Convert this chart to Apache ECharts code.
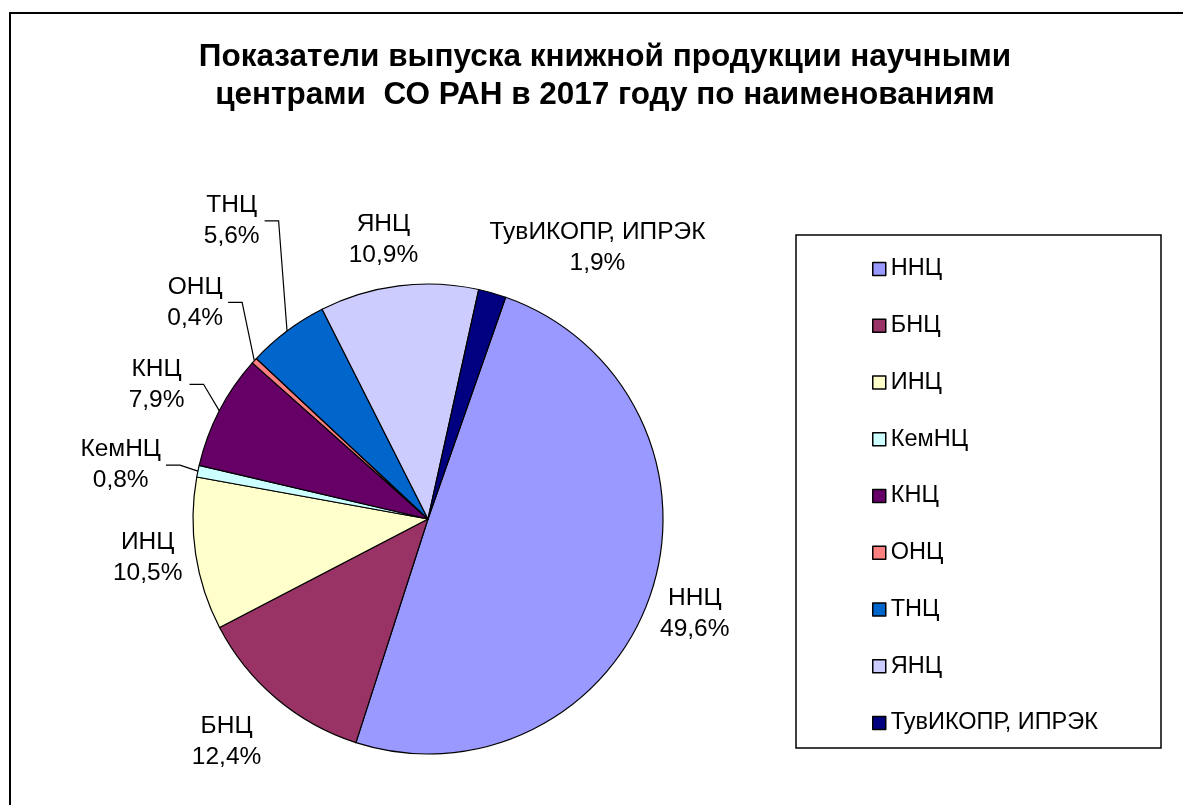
<!DOCTYPE html>
<html>
<head>
<meta charset="utf-8">
<script src="https://cdn.jsdelivr.net/npm/echarts@6/dist/echarts.min.js"></script>
<style>
html,body{margin:0;padding:0;background:#fff;}
#chart{width:1183px;height:805px;}
</style>
</head>
<body>
<div id="chart"></div>
<script>
// ---- data ----
const titleText = 'Показатели выпуска книжной продукции научными\nцентрами  СО РАН в 2017 году по наименованиям';
const categories = ['ННЦ', 'БНЦ', 'ИНЦ', 'КемНЦ', 'КНЦ', 'ОНЦ', 'ТНЦ', 'ЯНЦ', 'ТувИКОПР, ИПРЭК'];
const shares = [49.6, 12.4, 10.5, 0.8, 7.9, 0.4, 5.6, 10.9, 1.9];
const colors = ['#9999FF', '#993366', '#FFFFCC', '#CCFFFF', '#660066', '#FF8080', '#0066CC', '#CCCCFF', '#000080'];
const hasLeader = [false, false, false, true, true, true, true, false, false];

// ---- layout (styles, not data) ----
const CX = 428, CY = 519, R = 235;
const START = 70.7; // echarts startAngle
const labelDist = [283, 300, 283, 312, 303, 318, 357, 283, 320];
const labelTurn = [0.9, 2.0, 0.7, -1.8, -1.0, 0.6, 3.5, -1.9, 16.1];
const FONT = 'Liberation Sans, Arial, sans-serif';

const total = shares.reduce((a, b) => a + b, 0);
const mids = [];
let acc = 90 - START;
shares.forEach(v => { const w = v / total * 360; mids.push(acc + w / 2); acc += w; });

const chart = echarts.init(document.getElementById('chart'));
chart.setOption({
  backgroundColor: '#fff',
  animation: false,
  legend: {
    orient: 'vertical',
    left: 867,
    top: 252,
    itemWidth: 13,
    itemHeight: 13,
    itemGap: 32.75,
    icon: 'rect',
    data: categories,
    itemStyle: { borderColor: '#000', borderWidth: 1.5 },
    textStyle: { fontFamily: FONT, fontSize: 23.5, lineHeight: 24, color: '#000', padding: [0, 0, 0, 0] }
  },
  graphic: [
    { type: 'rect', shape: { x: 10, y: 13, width: 1200, height: 850 }, style: { fill: 'none', stroke: '#000', lineWidth: 2 }, silent: true, z: 0 },
    { type: 'rect', shape: { x: 796, y: 235, width: 365, height: 513 }, style: { fill: 'none', stroke: '#000', lineWidth: 1.5 }, silent: true, z: 0 },
    { type: 'text', x: 605, y: 38, silent: true, z: 5,
      style: { text: titleText, fontFamily: FONT, fontSize: 31.5, fontWeight: 'bold', fill: '#000',
               lineHeight: 38, align: 'center', verticalAlign: 'top' } }
  ],
  series: [{
    type: 'pie',
    center: [CX, CY],
    radius: R,
    startAngle: START,
    clockwise: true,
    avoidLabelOverlap: false,
    itemStyle: { borderColor: '#000', borderWidth: 1.2 },
    label: {
      show: true,
      position: 'outside',
      fontFamily: FONT,
      fontSize: 24.5,
      lineHeight: 31,
      color: '#000',
      align: 'center',
      formatter: p => p.name + '\n' + String(p.value).replace('.', ',') + '%'
    },
    labelLine: { show: true, smooth: false, lineStyle: { color: '#000', width: 1.2 } },
    emphasis: { disabled: true },
    labelLayout: function (params) {
      const i = params.dataIndex;
      const a = (mids[i] + labelTurn[i]) * Math.PI / 180;
      const x = CX + labelDist[i] * Math.sin(a);
      const y = CY - labelDist[i] * Math.cos(a);
      const res = { x: x, y: y, align: 'center', verticalAlign: 'middle' };
      if (hasLeader[i]) {
        const m = mids[i] * Math.PI / 180;
        const ex = CX + R * Math.sin(m), ey = CY - R * Math.cos(m);
        const rx = x + params.labelRect.width / 2;
        res.labelLinePoints = [[ex, ey], [rx + 19, y], [rx + 5, y]];
      }
      return res;
    },
    data: categories.map((c, i) => ({
      name: c,
      value: shares[i],
      itemStyle: { color: colors[i] },
      labelLine: { show: hasLeader[i] }
    }))
  }]
});
</script>
</body>
</html>
